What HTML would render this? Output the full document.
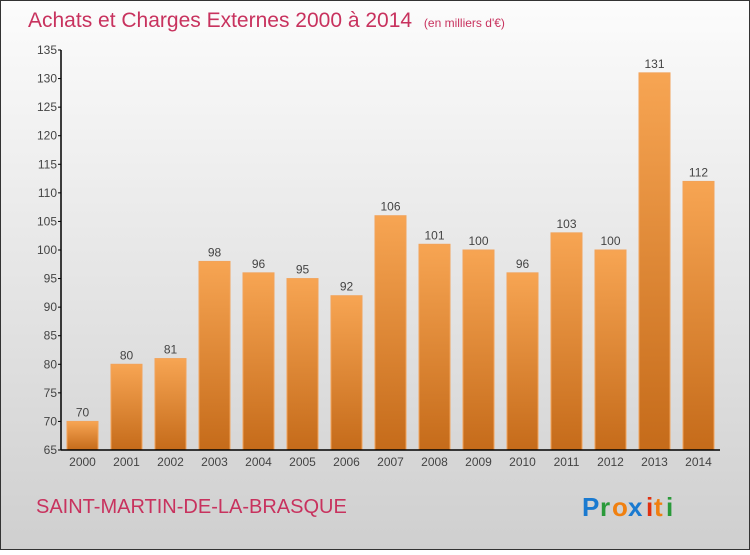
<!DOCTYPE html>
<html><head><meta charset="utf-8"><style>
body{margin:0;width:750px;height:550px;overflow:hidden;font-family:"Liberation Sans",sans-serif}
svg text{font-family:"Liberation Sans",sans-serif}
</style></head><body>
<svg id="c" width="750" height="550" xmlns="http://www.w3.org/2000/svg">
<defs>
<linearGradient id="bg" x1="0" y1="0" x2="0" y2="1"><stop offset="0" stop-color="#fcfcfc"/><stop offset="1" stop-color="#cfcfcf"/></linearGradient>
<linearGradient id="bar" x1="0" y1="0" x2="0" y2="1"><stop offset="0" stop-color="#f7a553"/><stop offset="1" stop-color="#c56b1a"/></linearGradient>
</defs>
<rect x="0.5" y="0.5" width="749" height="549" fill="url(#bg)" stroke="#333"/>
<text x="28" y="27" font-size="21" fill="#c8325e">Achats et Charges Externes 2000 à 2014 <tspan font-size="12" dx="6">(en milliers d'€)</tspan></text>
<g id="bars"></g>
<g id="axes"></g>
<text x="36" y="513" font-size="20" fill="#c8325e">SAINT-MARTIN-DE-LA-BRASQUE</text>
<g font-size="26" font-weight="bold">
<text x="582" y="516" fill="#1a7ad0">P</text><text x="600" y="516" fill="#2a9a3a">r</text><text x="612" y="516" fill="#f08010">o</text><text x="628" y="516" fill="#1a7ad0">x</text><text x="646" y="516" fill="#e03010">i</text><text x="654" y="516" fill="#f08010">t</text><text x="666" y="516" fill="#2a9a3a">i</text>
</g>
</svg>
<script>
const categories=["2000","2001","2002","2003","2004","2005","2006","2007","2008","2009","2010","2011","2012","2013","2014"];
const values=[70,80,81,98,96,95,92,106,101,100,96,103,100,131,112];
const ticks=[65,70,75,80,85,90,95,100,105,110,115,120,125,130,135];
const NS="http://www.w3.org/2000/svg";
const yMin=65,yMax=135,yTop=50,yBot=450;
const y=v=>yBot-(v-yMin)/(yMax-yMin)*(yBot-yTop);
const x=i=>82.5+i*44;
function mk(t,a,p){const e=document.createElementNS(NS,t);for(const k in a)e.setAttribute(k,a[k]);p.appendChild(e);return e;}
const gb=document.getElementById('bars'),ga=document.getElementById('axes');
values.forEach((v,i)=>{
 const r=mk('rect',{x:x(i)-15.5,y:y(v),width:31,height:yBot-y(v),fill:'url(#bar)',stroke:'#f2a35a','stroke-width':1},gb);
 
 
 const t=mk('text',{x:x(i),y:y(v)-5,'text-anchor':'middle','font-size':12,fill:'#444'},gb);
 t.textContent=v;
 
 
 const c=mk('text',{x:x(i),y:466,'text-anchor':'middle','font-size':12,fill:'#444'},ga);
 c.textContent=categories[i];
 
 
});
ticks.forEach(v=>{
 mk('line',{x1:58,x2:61,y1:y(v),y2:y(v),stroke:'#000'},ga);
 const t=mk('text',{x:57,y:y(v)+4,'text-anchor':'end','font-size':12,fill:'#444'},ga);
 t.textContent=v;
 
 
});
const ya=mk('line',{x1:61,x2:61,y1:yTop,y2:yBot,stroke:'#000','stroke-width':1.5},ga);


const xa=mk('line',{x1:61,x2:720,y1:yBot,y2:yBot,stroke:'#000','stroke-width':1.5},ga);


</script>
</body></html>
